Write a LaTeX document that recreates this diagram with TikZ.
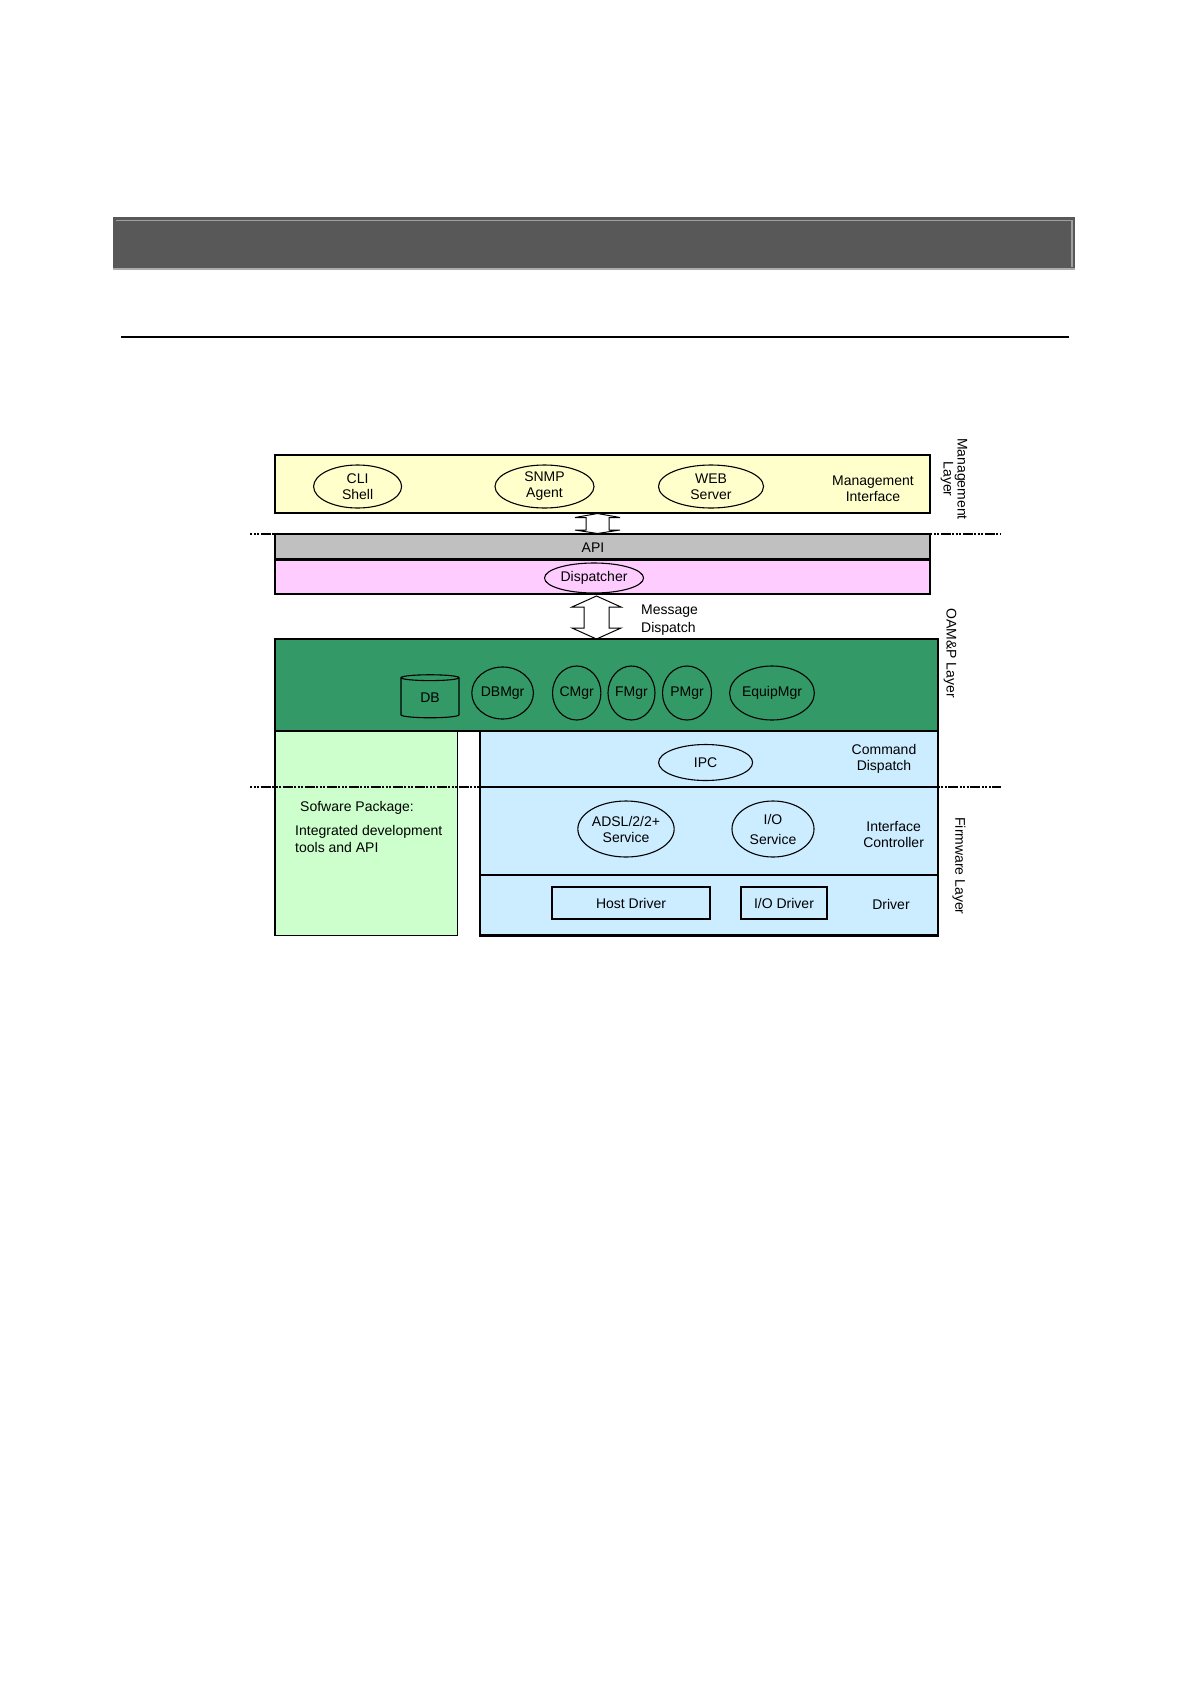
\documentclass[tikz,border=0pt]{standalone}
\usepackage{fontspec}
\setmainfont{Liberation Sans}
\usetikzlibrary{shapes.geometric,calc}
\definecolor{mgmt}{HTML}{FFFFCC}
\definecolor{apigray}{HTML}{C0C0C0}
\definecolor{disp}{HTML}{FFCCFF}
\definecolor{oam}{HTML}{339966}
\definecolor{swpkg}{HTML}{CCFFCC}
\definecolor{fw}{HTML}{CCECFF}
\definecolor{bar}{HTML}{585858}
\begin{document}
\begin{tikzpicture}[x=1pt,y=-1pt,
  layerbox/.style={draw=black, line width=2.2pt},
  elli/.style={ellipse, draw=black, line width=1.1pt, inner sep=0pt, align=center, font=\fontsize{14}{16}\selectfont},
  lbl/.style={align=center, font=\fontsize{14}{16}\selectfont, inner sep=0pt},
  lbll/.style={align=left, anchor=west, font=\fontsize{14}{17.5}\selectfont, inner sep=0pt},
  sideLbl/.style={align=center, rotate=-90, font=\fontsize{14}{14}\selectfont, inner sep=0pt},
  sepline/.style={line width=2.6pt, dash pattern=on 2pt off 1.5pt on 2pt off 1.5pt on 2pt off 1.5pt on 10pt off 1.5pt},
  blockarrow/.style={draw=black, line width=1pt, fill=white}
]
\useasboundingbox[fill=white] (0,0) rectangle (1190,1684);

% header bar and rule
\fill[bar] (113,217) rectangle (1075,270);
\draw[gray!75, line width=1.2pt] (116,220.5) -- (1072,220.5) -- (1072,267);
\draw[gray!65, line width=1.5pt] (113,269.2) -- (1075,269.2);
\draw[line width=1.3pt] (121,337) -- (1069,337);

% separators (dotted) behind boxes
\draw[sepline] (250,534) -- (276,534);
\draw[sepline] (930,534) -- (1001,534);

% management layer
\node[layerbox, fill=mgmt, minimum width=655, minimum height=58, inner sep=0pt] (mgmt) at (602.5,484) {};
\node[elli, minimum width=88, minimum height=43] (cli) at (357.6,486.5) {CLI\\Shell};
\node[elli, minimum width=99, minimum height=43] (snmp) at (544.5,486.5) {SNMP\\Agent};
\node[elli, minimum width=105, minimum height=43] (web) at (711,486.5) {WEB\\Server};
\node[lbl] (mgmtif) at (873,489) {Management\\Interface};
\node[sideLbl] (mgmtlayer) at (954,479) {Management\\Layer};

% API and dispatcher
\node[layerbox, fill=apigray, minimum width=655, minimum height=25.5, inner sep=0pt] (api) at (602.5,546.75) {};
\node[lbl] (apitxt) at (593,548) {API};
\node[layerbox, fill=disp, minimum width=655, minimum height=34.5, inner sep=0pt] (dispbox) at (602.5,576.75) {};
\node[elli, minimum width=99, minimum height=30] (dispatcher) at (594,578) {Dispatcher};

% small double arrow between management and API
\draw[blockarrow] (597.5,513.5) -- (620,517.5) -- (609,517.5) -- (609,530) -- (620,530) -- (597.5,533.5)
  -- (575,530) -- (586,530) -- (586,517.5) -- (575,517.5) -- cycle;

% message dispatch arrow
\draw[blockarrow] (596.5,596) -- (621,607) -- (609,607) -- (609,628) -- (621,628) -- (596.5,639)
  -- (572,628) -- (584,628) -- (584,607) -- (572,607) -- cycle;
\node[lbll] (msgdisp) at (641,620) {Message\\Dispatch};

% OAM&P layer
\node[layerbox, fill=oam, minimum width=662.6, minimum height=92, inner sep=0pt] (oamp) at (606.3,685) {};
\node[cylinder, shape border rotate=90, aspect=0.3, draw=black, line width=1.1pt, minimum width=58, minimum height=43, inner sep=0pt, font=\fontsize{14}{16}\selectfont] (db) at (430,698) {DB};
\node[elli, minimum width=56, minimum height=52] (dbmgr) at (502.6,693) {DBMgr};
\node[elli, minimum width=47, minimum height=54] (cmgr) at (576.7,693) {CMgr};
\node[elli, minimum width=47, minimum height=54] (fmgr) at (631.5,693) {FMgr};
\node[elli, minimum width=49, minimum height=54] (pmgr) at (687,693) {PMgr};
\node[elli, minimum width=77, minimum height=54] (equip) at (772,693) {EquipMgr};
\node[sideLbl] (oamlayer) at (950,653) {OAM\&P Layer};

% software package
\node[draw=black, line width=1.3pt, fill=swpkg, minimum width=182.5, minimum height=204.5, inner sep=0pt] (sw) at (366.25,833.25) {};
\node[lbll] (swtitle) at (300,808) {Sofware Package:};
\node[lbll] (swdesc) at (295,839) {Integrated development\\tools and API};

% firmware boxes
\node[layerbox, fill=fw, minimum width=457.6, minimum height=56, inner sep=0pt] (cmd) at (708.8,759) {};
\node[layerbox, fill=fw, minimum width=457.6, minimum height=88, inner sep=0pt] (ifc) at (708.8,831) {};
\node[layerbox, fill=fw, minimum width=457.6, minimum height=60.5, inner sep=0pt] (drv) at (708.8,905.25) {};

\draw[sepline] (250,787) -- (480,787);
\draw[sepline] (937.6,787) -- (1001,787);

\node[elli, minimum width=94, minimum height=36] (ipc) at (705.6,762.5) {IPC};
\node[lbl] (cmdtxt) at (884,759) {Command\\Dispatch};
\node[elli, minimum width=90, minimum height=56] (adsl) at (626,829) {ADSL/2/2+\\Service};
\node[elli, minimum width=82, minimum height=56] (iosvc) at (773,829) {I/O\\[4pt]Service};
\node[lbl] (ifctxt) at (893.6,834.5) {Interface\\Controller};
\node[draw=black, line width=1.2pt, minimum width=158, minimum height=32, inner sep=0pt, font=\fontsize{14}{16}\selectfont] (host) at (631,903) {Host Driver};
\node[draw=black, line width=1.2pt, minimum width=86, minimum height=32, inner sep=0pt, font=\fontsize{14}{16}\selectfont] (iodrv) at (784,903) {I/O Driver};
\node[lbl] (drvtxt) at (891,904) {Driver};
\node[sideLbl] (fwlayer) at (959,866) {Firmware Layer};
\end{tikzpicture}
\end{document}
